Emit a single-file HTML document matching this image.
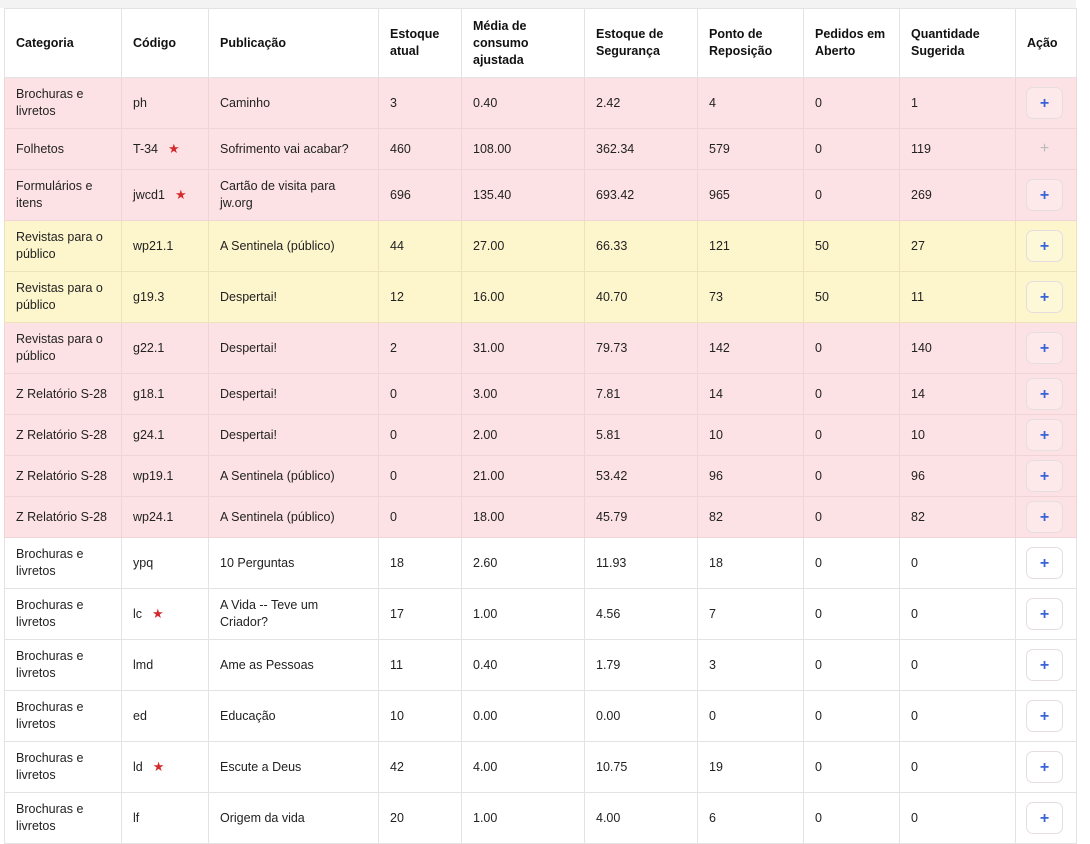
<!DOCTYPE html>
<html><head><meta charset="utf-8"><style>
html,body{margin:0;padding:0;background:#fff;width:1090px;height:806px;overflow:hidden}
body{font-family:"Liberation Sans","DejaVu Sans",sans-serif;font-size:12.5px;color:#222}
.wrap{position:absolute;left:4px;top:8px;width:1072px}
.topbar{position:absolute;left:0;top:0;width:1076px;height:8px;background:#f3f3f3}
table{border-collapse:collapse;table-layout:fixed;width:1072px}
td,th{border:1px solid #e3e3e3;padding:0 11px;vertical-align:middle;text-align:left;line-height:17px;overflow:hidden}
th{font-weight:bold;height:68px;background:#fff;color:#111}
tr.r td{background:#fde2e5;border-color:#f0d4d6}
tr.y td{background:#fdf5cc;border-color:#ece3bc}
tr.w td{background:#fff}
tr.h2 td{height:50px}
tr.h1 td{height:40px}
.st{color:#d42a2a;margin-left:10px;font-size:13px}
.btn{display:inline-block;width:37px;height:32px;border:1px solid #e6dede;border-radius:7px;background:#fff;color:#3a63d6;font-weight:bold;font-size:16px;text-align:center;line-height:32px;box-sizing:border-box;margin-left:0}
tr.r .btn{background:#fde8ea}
tr.y .btn{background:#fdf8d8}
.dis{color:#bbb;font-weight:normal;font-size:16px;display:inline-block;width:37px;text-align:center}
td.a{padding:0 10px}
</style></head><body>
<div class="topbar"></div>
<div class="wrap"><table>
<colgroup><col style="width:117px"><col style="width:87px"><col style="width:170px"><col style="width:83px"><col style="width:123px"><col style="width:113px"><col style="width:106px"><col style="width:96px"><col style="width:116px"><col style="width:61px"></colgroup>
<tr><th>Categoria</th><th>Código</th><th>Publicação</th><th>Estoque atual</th><th>Média de consumo ajustada</th><th>Estoque de Segurança</th><th>Ponto de Reposição</th><th>Pedidos em Aberto</th><th>Quantidade Sugerida</th><th>Ação</th></tr>
<tr class="r h2"><td>Brochuras e livretos</td><td>ph</td><td>Caminho</td><td>3</td><td>0.40</td><td>2.42</td><td>4</td><td>0</td><td>1</td><td class="a"><span class="btn">+</span></td></tr>
<tr class="r h1"><td>Folhetos</td><td>T-34<span class="st">★</span></td><td>Sofrimento vai acabar?</td><td>460</td><td>108.00</td><td>362.34</td><td>579</td><td>0</td><td>119</td><td class="a"><span class="dis">+</span></td></tr>
<tr class="r h2"><td>Formulários e itens</td><td>jwcd1<span class="st">★</span></td><td>Cartão de visita para jw.org</td><td>696</td><td>135.40</td><td>693.42</td><td>965</td><td>0</td><td>269</td><td class="a"><span class="btn">+</span></td></tr>
<tr class="y h2"><td>Revistas para o público</td><td>wp21.1</td><td>A Sentinela (público)</td><td>44</td><td>27.00</td><td>66.33</td><td>121</td><td>50</td><td>27</td><td class="a"><span class="btn">+</span></td></tr>
<tr class="y h2"><td>Revistas para o público</td><td>g19.3</td><td>Despertai!</td><td>12</td><td>16.00</td><td>40.70</td><td>73</td><td>50</td><td>11</td><td class="a"><span class="btn">+</span></td></tr>
<tr class="r h2"><td>Revistas para o público</td><td>g22.1</td><td>Despertai!</td><td>2</td><td>31.00</td><td>79.73</td><td>142</td><td>0</td><td>140</td><td class="a"><span class="btn">+</span></td></tr>
<tr class="r h1"><td>Z Relatório S-28</td><td>g18.1</td><td>Despertai!</td><td>0</td><td>3.00</td><td>7.81</td><td>14</td><td>0</td><td>14</td><td class="a"><span class="btn">+</span></td></tr>
<tr class="r h1"><td>Z Relatório S-28</td><td>g24.1</td><td>Despertai!</td><td>0</td><td>2.00</td><td>5.81</td><td>10</td><td>0</td><td>10</td><td class="a"><span class="btn">+</span></td></tr>
<tr class="r h1"><td>Z Relatório S-28</td><td>wp19.1</td><td>A Sentinela (público)</td><td>0</td><td>21.00</td><td>53.42</td><td>96</td><td>0</td><td>96</td><td class="a"><span class="btn">+</span></td></tr>
<tr class="r h1"><td>Z Relatório S-28</td><td>wp24.1</td><td>A Sentinela (público)</td><td>0</td><td>18.00</td><td>45.79</td><td>82</td><td>0</td><td>82</td><td class="a"><span class="btn">+</span></td></tr>
<tr class="w h2"><td>Brochuras e livretos</td><td>ypq</td><td>10 Perguntas</td><td>18</td><td>2.60</td><td>11.93</td><td>18</td><td>0</td><td>0</td><td class="a"><span class="btn">+</span></td></tr>
<tr class="w h2"><td>Brochuras e livretos</td><td>lc<span class="st">★</span></td><td>A Vida -- Teve um Criador?</td><td>17</td><td>1.00</td><td>4.56</td><td>7</td><td>0</td><td>0</td><td class="a"><span class="btn">+</span></td></tr>
<tr class="w h2"><td>Brochuras e livretos</td><td>lmd</td><td>Ame as Pessoas</td><td>11</td><td>0.40</td><td>1.79</td><td>3</td><td>0</td><td>0</td><td class="a"><span class="btn">+</span></td></tr>
<tr class="w h2"><td>Brochuras e livretos</td><td>ed</td><td>Educação</td><td>10</td><td>0.00</td><td>0.00</td><td>0</td><td>0</td><td>0</td><td class="a"><span class="btn">+</span></td></tr>
<tr class="w h2"><td>Brochuras e livretos</td><td>ld<span class="st">★</span></td><td>Escute a Deus</td><td>42</td><td>4.00</td><td>10.75</td><td>19</td><td>0</td><td>0</td><td class="a"><span class="btn">+</span></td></tr>
<tr class="w h2"><td>Brochuras e livretos</td><td>lf</td><td>Origem da vida</td><td>20</td><td>1.00</td><td>4.00</td><td>6</td><td>0</td><td>0</td><td class="a"><span class="btn">+</span></td></tr>
</table></div>
</body></html>
